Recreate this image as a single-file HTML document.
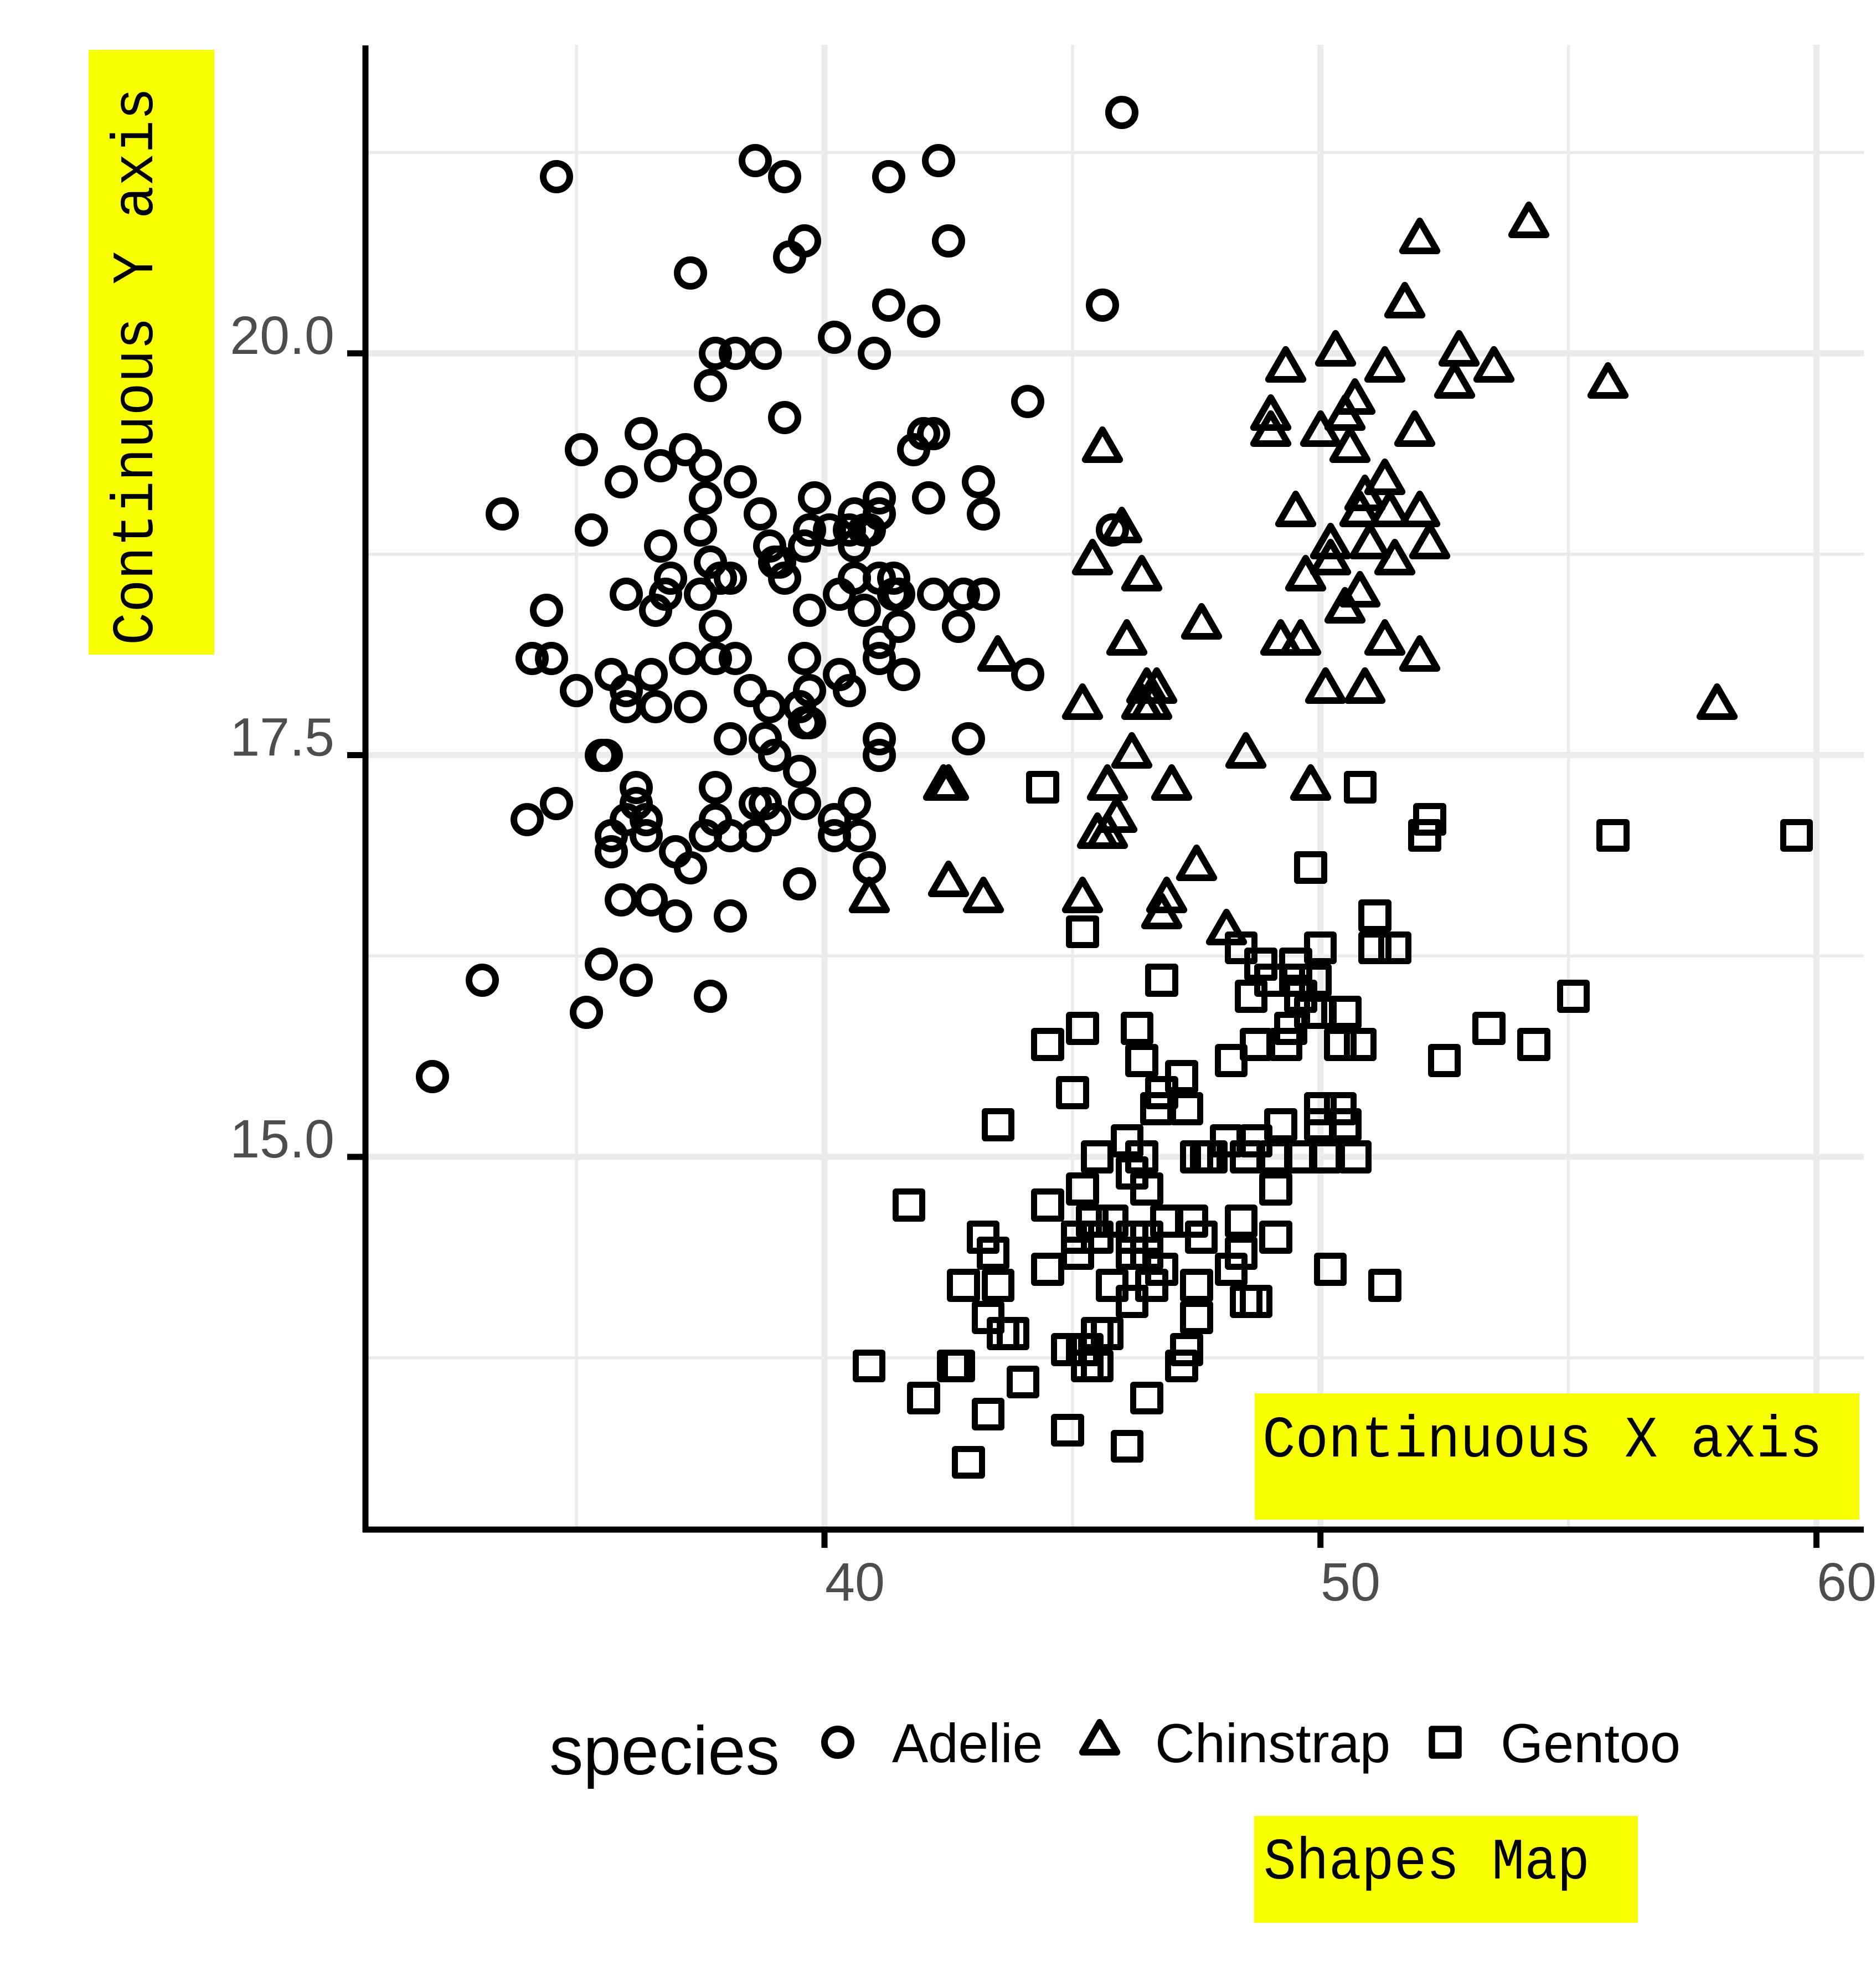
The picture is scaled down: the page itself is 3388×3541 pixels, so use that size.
<!DOCTYPE html>
<html><head><meta charset="utf-8"><style>
html,body{margin:0;padding:0;background:#fff}
body{width:3388px;height:3541px;position:relative;overflow:hidden}
svg.bg{position:absolute;left:0;top:0}
.pts i,.pts svg{position:absolute;left:calc((var(--x) - 40)*89.57px + 1489px);top:calc((20 - var(--y))*290.2px + 638px);box-sizing:border-box}
.A i{width:60px;height:60px;margin:-30px 0 0 -30px;border:12px solid #000;border-radius:50%}
.G i{width:59.5px;height:59.5px;margin:-29.75px 0 0 -29.75px;border:11.5px solid #000;border-radius:6px}
.C svg{width:90px;height:90px;margin:-45px 0 0 -45px;overflow:visible}
</style></head><body>
<svg class="bg" width="3388" height="3541" viewBox="0 0 3388 3541" xmlns="http://www.w3.org/2000/svg">
<defs>
<path id="t" d="M45,8.9L76.2,63L13.8,63Z" fill="none" stroke="#000" stroke-width="12" stroke-linejoin="round"/>
</defs>
<g stroke="#ebebeb" stroke-width="5.5">
<line x1="660" x2="3366" y1="275.25" y2="275.25"/>
<line x1="660" x2="3366" y1="1000.75" y2="1000.75"/>
<line x1="660" x2="3366" y1="1726.25" y2="1726.25"/>
<line x1="660" x2="3366" y1="2451.75" y2="2451.75"/>
<line x1="1041.2" x2="1041.2" y1="81" y2="2762"/>
<line x1="1936.9" x2="1936.9" y1="81" y2="2762"/>
<line x1="2832.6" x2="2832.6" y1="81" y2="2762"/>
</g>
<g stroke="#ebebeb" stroke-width="11">
<line x1="660" x2="3366" y1="638" y2="638"/>
<line x1="660" x2="3366" y1="1363.5" y2="1363.5"/>
<line x1="660" x2="3366" y1="2089" y2="2089"/>
<line x1="1489" x2="1489" y1="81" y2="2762"/>
<line x1="2384.7" x2="2384.7" y1="81" y2="2762"/>
<line x1="3280.4" x2="3280.4" y1="81" y2="2762"/>
</g>
<g stroke="#000" stroke-width="11">
<line x1="660" x2="660" y1="82" y2="2767"/>
<line x1="655" x2="3366" y1="2762" y2="2762"/>
<line x1="627" x2="660" y1="638" y2="638"/>
<line x1="627" x2="660" y1="1363.5" y2="1363.5"/>
<line x1="627" x2="660" y1="2089" y2="2089"/>
<line x1="1489" x2="1489" y1="2762" y2="2795"/>
<line x1="2384.7" x2="2384.7" y1="2762" y2="2795"/>
<line x1="3280.4" x2="3280.4" y1="2762" y2="2795"/>
</g>
<g font-family="Liberation Sans, Arial, sans-serif" font-size="97" fill="#4d4d4d">
<text x="604" y="639" text-anchor="end">20.0</text>
<text x="604" y="1364.5" text-anchor="end">17.5</text>
<text x="604" y="2090" text-anchor="end">15.0</text>
<text x="1490" y="2890">40</text>
<text x="2385" y="2890">50</text>
<text x="3281" y="2890">60</text>
</g>
<rect x="160" y="90" width="227" height="1092" fill="#f8ff00"/>
<text transform="translate(275,1165) rotate(-90)" font-family="Liberation Mono, DejaVu Sans Mono, monospace" font-size="106" fill="#000" textLength="1007" lengthAdjust="spacingAndGlyphs">Continuous Y axis</text>
<rect x="2266" y="2516" width="1092" height="228" fill="#f8ff00"/>
<text x="2280" y="2630" font-family="Liberation Mono, DejaVu Sans Mono, monospace" font-size="106" fill="#000" textLength="1011" lengthAdjust="spacingAndGlyphs">Continuous X axis</text>
<rect x="2265" y="3279" width="693" height="193" fill="#f8ff00"/>
<text x="2282" y="3392" font-family="Liberation Mono, DejaVu Sans Mono, monospace" font-size="106" fill="#000" textLength="589" lengthAdjust="spacingAndGlyphs">Shapes Map</text>
<g font-family="Liberation Sans, Arial, sans-serif" fill="#000">
<text x="992" y="3204" font-size="124" textLength="416" lengthAdjust="spacingAndGlyphs">species</text>
<text x="1611" y="3182" font-size="99" textLength="272" lengthAdjust="spacingAndGlyphs">Adelie</text>
<text x="2086" y="3182" font-size="99" textLength="425" lengthAdjust="spacingAndGlyphs">Chinstrap</text>
<text x="2710" y="3182" font-size="99" textLength="325" lengthAdjust="spacingAndGlyphs">Gentoo</text>
</g>
<circle cx="1513" cy="3146" r="24" fill="none" stroke="#000" stroke-width="12"/>
<use href="#t" x="1941" y="3101"/>
<rect x="2586" y="3122" width="48" height="48" fill="none" stroke="#000" stroke-width="11.5" stroke-linejoin="round"/>
</svg>
<div class="pts A">
<i style=--x:39.1;--y:18.7></i><i style=--x:39.5;--y:17.4></i><i style=--x:40.3;--y:18.0></i><i style=--x:36.7;--y:19.3></i>
<i style=--x:39.3;--y:20.6></i><i style=--x:38.9;--y:17.8></i><i style=--x:39.2;--y:19.6></i><i style=--x:34.1;--y:18.1></i>
<i style=--x:42.0;--y:20.2></i><i style=--x:37.8;--y:17.1></i><i style=--x:37.8;--y:17.3></i><i style=--x:41.1;--y:17.6></i>
<i style=--x:38.6;--y:21.2></i><i style=--x:34.6;--y:21.1></i><i style=--x:36.6;--y:17.8></i><i style=--x:38.7;--y:19.0></i>
<i style=--x:42.5;--y:20.7></i><i style=--x:34.4;--y:18.4></i><i style=--x:46.0;--y:21.5></i><i style=--x:37.8;--y:18.3></i>
<i style=--x:37.7;--y:18.7></i><i style=--x:35.9;--y:19.2></i><i style=--x:38.2;--y:18.1></i><i style=--x:38.8;--y:17.2></i>
<i style=--x:35.3;--y:18.9></i><i style=--x:40.6;--y:18.6></i><i style=--x:40.5;--y:17.9></i><i style=--x:37.9;--y:18.6></i>
<i style=--x:40.5;--y:18.9></i><i style=--x:39.5;--y:16.7></i><i style=--x:37.2;--y:18.1></i><i style=--x:39.5;--y:17.8></i>
<i style=--x:40.9;--y:18.9></i><i style=--x:36.4;--y:17.0></i><i style=--x:39.2;--y:21.1></i><i style=--x:38.8;--y:20.0></i>
<i style=--x:42.2;--y:18.5></i><i style=--x:37.6;--y:19.3></i><i style=--x:39.8;--y:19.1></i><i style=--x:36.5;--y:18.0></i>
<i style=--x:40.8;--y:18.4></i><i style=--x:36.0;--y:18.5></i><i style=--x:44.1;--y:19.7></i><i style=--x:37.0;--y:16.9></i>
<i style=--x:39.6;--y:18.8></i><i style=--x:41.1;--y:19.0></i><i style=--x:37.5;--y:18.9></i><i style=--x:36.0;--y:17.9></i>
<i style=--x:42.3;--y:21.2></i><i style=--x:39.6;--y:17.7></i><i style=--x:40.1;--y:18.9></i><i style=--x:35.0;--y:17.9></i>
<i style=--x:42.0;--y:19.5></i><i style=--x:34.5;--y:18.1></i><i style=--x:41.4;--y:18.6></i><i style=--x:39.0;--y:17.5></i>
<i style=--x:40.6;--y:18.8></i><i style=--x:36.5;--y:16.6></i><i style=--x:37.6;--y:19.1></i><i style=--x:35.7;--y:16.9></i>
<i style=--x:41.3;--y:21.1></i><i style=--x:37.6;--y:17.0></i><i style=--x:41.1;--y:18.2></i><i style=--x:36.4;--y:17.1></i>
<i style=--x:41.6;--y:18.0></i><i style=--x:35.5;--y:16.2></i><i style=--x:41.1;--y:19.1></i><i style=--x:35.9;--y:16.6></i>
<i style=--x:41.8;--y:19.4></i><i style=--x:33.5;--y:19.0></i><i style=--x:39.7;--y:18.4></i><i style=--x:39.6;--y:17.2></i>
<i style=--x:45.8;--y:18.9></i><i style=--x:35.5;--y:17.5></i><i style=--x:42.8;--y:18.5></i><i style=--x:40.9;--y:16.8></i>
<i style=--x:37.2;--y:19.4></i><i style=--x:36.2;--y:16.1></i><i style=--x:42.1;--y:19.1></i><i style=--x:34.6;--y:17.2></i>
<i style=--x:42.9;--y:17.6></i><i style=--x:36.7;--y:18.8></i><i style=--x:35.1;--y:19.4></i><i style=--x:37.3;--y:17.8></i>
<i style=--x:41.3;--y:20.3></i><i style=--x:36.3;--y:19.5></i><i style=--x:36.9;--y:18.6></i><i style=--x:38.3;--y:19.2></i>
<i style=--x:38.9;--y:18.8></i><i style=--x:35.7;--y:18.0></i><i style=--x:41.1;--y:18.1></i><i style=--x:34.0;--y:17.1></i>
<i style=--x:39.6;--y:18.1></i><i style=--x:36.2;--y:17.3></i><i style=--x:40.8;--y:18.9></i><i style=--x:38.1;--y:18.6></i>
<i style=--x:40.3;--y:18.5></i><i style=--x:33.1;--y:16.1></i><i style=--x:43.2;--y:18.5></i><i style=--x:35.0;--y:17.9></i>
<i style=--x:41.0;--y:20.0></i><i style=--x:37.7;--y:16.0></i><i style=--x:37.8;--y:20.0></i><i style=--x:37.9;--y:18.6></i>
<i style=--x:39.7;--y:18.9></i><i style=--x:38.6;--y:17.2></i><i style=--x:38.2;--y:20.0></i><i style=--x:38.1;--y:17.0></i>
<i style=--x:43.2;--y:19.0></i><i style=--x:38.1;--y:16.5></i><i style=--x:45.6;--y:20.3></i><i style=--x:39.7;--y:17.7></i>
<i style=--x:42.2;--y:19.5></i><i style=--x:39.6;--y:20.7></i><i style=--x:42.7;--y:18.3></i><i style=--x:38.6;--y:17.0></i>
<i style=--x:37.3;--y:20.5></i><i style=--x:35.7;--y:17.0></i><i style=--x:41.1;--y:18.6></i><i style=--x:36.2;--y:17.2></i>
<i style=--x:37.7;--y:19.8></i><i style=--x:40.2;--y:17.0></i><i style=--x:41.4;--y:18.5></i><i style=--x:35.2;--y:15.9></i>
<i style=--x:40.6;--y:19.0></i><i style=--x:38.8;--y:17.6></i><i style=--x:41.5;--y:18.3></i><i style=--x:39.0;--y:17.1></i>
<i style=--x:44.1;--y:18.0></i><i style=--x:38.5;--y:17.9></i><i style=--x:43.1;--y:19.2></i><i style=--x:36.8;--y:18.5></i>
<i style=--x:37.5;--y:18.5></i><i style=--x:38.1;--y:17.6></i><i style=--x:41.1;--y:17.5></i><i style=--x:35.6;--y:17.5></i>
<i style=--x:40.2;--y:20.1></i><i style=--x:37.0;--y:16.5></i><i style=--x:39.7;--y:17.9></i><i style=--x:40.2;--y:17.1></i>
<i style=--x:40.6;--y:17.2></i><i style=--x:32.1;--y:15.5></i><i style=--x:40.7;--y:17.0></i><i style=--x:37.3;--y:16.8></i>
<i style=--x:39.0;--y:18.7></i><i style=--x:39.2;--y:18.6></i><i style=--x:36.6;--y:18.4></i><i style=--x:36.0;--y:17.8></i>
<i style=--x:37.8;--y:18.1></i><i style=--x:36.0;--y:17.1></i><i style=--x:41.5;--y:18.5></i>
</div>
<div class="pts G">
<i style=--x:46.1;--y:13.2></i><i style=--x:50.0;--y:16.3></i><i style=--x:48.7;--y:14.1></i><i style=--x:50.0;--y:15.2></i>
<i style=--x:47.6;--y:14.5></i><i style=--x:46.5;--y:13.5></i><i style=--x:45.4;--y:14.6></i><i style=--x:46.7;--y:15.3></i>
<i style=--x:43.3;--y:13.4></i><i style=--x:46.8;--y:15.4></i><i style=--x:40.9;--y:13.7></i><i style=--x:49.0;--y:16.1></i>
<i style=--x:45.5;--y:13.7></i><i style=--x:48.4;--y:14.6></i><i style=--x:45.8;--y:14.6></i><i style=--x:49.3;--y:15.7></i>
<i style=--x:42.0;--y:13.5></i><i style=--x:49.2;--y:15.2></i><i style=--x:46.2;--y:14.5></i><i style=--x:48.7;--y:15.1></i>
<i style=--x:50.2;--y:14.3></i><i style=--x:45.1;--y:14.5></i><i style=--x:46.5;--y:14.5></i><i style=--x:46.3;--y:15.8></i>
<i style=--x:42.9;--y:13.1></i><i style=--x:46.1;--y:15.1></i><i style=--x:44.5;--y:14.3></i><i style=--x:47.8;--y:15.0></i>
<i style=--x:48.2;--y:14.3></i><i style=--x:50.0;--y:15.3></i><i style=--x:47.3;--y:15.3></i><i style=--x:42.8;--y:14.2></i>
<i style=--x:45.1;--y:14.5></i><i style=--x:59.6;--y:17.0></i><i style=--x:49.1;--y:14.8></i><i style=--x:48.4;--y:16.3></i>
<i style=--x:42.6;--y:13.7></i><i style=--x:44.4;--y:17.3></i><i style=--x:44.0;--y:13.6></i><i style=--x:48.7;--y:15.7></i>
<i style=--x:42.7;--y:13.7></i><i style=--x:49.6;--y:16.0></i><i style=--x:45.3;--y:13.7></i><i style=--x:49.6;--y:15.0></i>
<i style=--x:50.5;--y:15.9></i><i style=--x:43.6;--y:13.9></i><i style=--x:45.5;--y:13.9></i><i style=--x:50.5;--y:15.9></i>
<i style=--x:44.9;--y:13.3></i><i style=--x:45.2;--y:15.8></i><i style=--x:46.6;--y:14.2></i><i style=--x:48.5;--y:14.1></i>
<i style=--x:45.1;--y:14.4></i><i style=--x:50.1;--y:15.0></i><i style=--x:46.5;--y:14.4></i><i style=--x:45.0;--y:15.4></i>
<i style=--x:43.8;--y:13.9></i><i style=--x:45.5;--y:15.0></i><i style=--x:43.2;--y:14.5></i><i style=--x:50.4;--y:15.3></i>
<i style=--x:45.3;--y:13.8></i><i style=--x:46.2;--y:14.9></i><i style=--x:45.7;--y:13.9></i><i style=--x:54.3;--y:15.7></i>
<i style=--x:45.8;--y:14.2></i><i style=--x:49.8;--y:16.8></i><i style=--x:46.2;--y:14.4></i><i style=--x:49.5;--y:16.2></i>
<i style=--x:43.5;--y:14.2></i><i style=--x:50.7;--y:15.0></i><i style=--x:47.7;--y:15.0></i><i style=--x:46.4;--y:15.6></i>
<i style=--x:48.2;--y:15.6></i><i style=--x:46.5;--y:14.8></i><i style=--x:46.4;--y:15.0></i><i style=--x:48.6;--y:16.0></i>
<i style=--x:47.5;--y:14.2></i><i style=--x:51.1;--y:16.3></i><i style=--x:45.2;--y:13.8></i><i style=--x:45.2;--y:16.4></i>
<i style=--x:49.1;--y:14.5></i><i style=--x:52.5;--y:15.6></i><i style=--x:47.4;--y:14.6></i><i style=--x:50.0;--y:15.9></i>
<i style=--x:44.9;--y:13.8></i><i style=--x:50.8;--y:17.3></i><i style=--x:43.4;--y:14.4></i><i style=--x:51.3;--y:14.2></i>
<i style=--x:47.5;--y:14.0></i><i style=--x:52.1;--y:17.0></i><i style=--x:47.5;--y:15.0></i><i style=--x:52.2;--y:17.1></i>
<i style=--x:45.5;--y:14.5></i><i style=--x:49.5;--y:16.1></i><i style=--x:44.5;--y:14.7></i><i style=--x:50.8;--y:15.7></i>
<i style=--x:49.4;--y:15.8></i><i style=--x:46.9;--y:14.6></i><i style=--x:48.4;--y:14.4></i><i style=--x:51.1;--y:16.5></i>
<i style=--x:48.5;--y:15.0></i><i style=--x:55.9;--y:17.0></i><i style=--x:47.2;--y:15.5></i><i style=--x:49.1;--y:15.0></i>
<i style=--x:47.3;--y:13.8></i><i style=--x:46.8;--y:16.1></i><i style=--x:41.7;--y:14.7></i><i style=--x:53.4;--y:15.8></i>
<i style=--x:43.3;--y:14.0></i><i style=--x:48.1;--y:15.1></i><i style=--x:50.5;--y:15.2></i><i style=--x:49.8;--y:15.9></i>
<i style=--x:43.5;--y:15.2></i><i style=--x:51.5;--y:16.3></i><i style=--x:46.2;--y:14.1></i><i style=--x:55.1;--y:16.0></i>
<i style=--x:44.5;--y:15.7></i><i style=--x:48.8;--y:16.2></i><i style=--x:47.2;--y:13.7></i><i style=--x:46.8;--y:14.3></i>
<i style=--x:50.4;--y:15.7></i><i style=--x:45.2;--y:14.8></i><i style=--x:49.9;--y:16.1></i>
</div>
<div class="pts C">
<svg style=--x:46.5;--y:17.9><use href="#t"/></svg><svg style=--x:50.0;--y:19.5><use href="#t"/></svg>
<svg style=--x:51.3;--y:19.2><use href="#t"/></svg><svg style=--x:45.4;--y:18.7><use href="#t"/></svg>
<svg style=--x:52.7;--y:19.8><use href="#t"/></svg><svg style=--x:45.2;--y:17.8><use href="#t"/></svg>
<svg style=--x:46.1;--y:18.2><use href="#t"/></svg><svg style=--x:51.3;--y:18.2><use href="#t"/></svg>
<svg style=--x:46.0;--y:18.9><use href="#t"/></svg><svg style=--x:51.3;--y:19.9><use href="#t"/></svg>
<svg style=--x:46.6;--y:17.8><use href="#t"/></svg><svg style=--x:51.7;--y:20.3><use href="#t"/></svg>
<svg style=--x:47.0;--y:17.3><use href="#t"/></svg><svg style=--x:52.0;--y:18.1><use href="#t"/></svg>
<svg style=--x:45.9;--y:17.1><use href="#t"/></svg><svg style=--x:50.5;--y:19.6><use href="#t"/></svg>
<svg style=--x:50.3;--y:20.0><use href="#t"/></svg><svg style=--x:58.0;--y:17.8><use href="#t"/></svg>
<svg style=--x:46.4;--y:18.6><use href="#t"/></svg><svg style=--x:49.2;--y:18.2><use href="#t"/></svg>
<svg style=--x:42.4;--y:17.3><use href="#t"/></svg><svg style=--x:48.5;--y:17.5><use href="#t"/></svg>
<svg style=--x:43.2;--y:16.6><use href="#t"/></svg><svg style=--x:50.6;--y:19.4><use href="#t"/></svg>
<svg style=--x:46.7;--y:17.9><use href="#t"/></svg><svg style=--x:52.0;--y:19.0><use href="#t"/></svg>
<svg style=--x:50.5;--y:18.4><use href="#t"/></svg><svg style=--x:49.5;--y:19.0><use href="#t"/></svg>
<svg style=--x:46.4;--y:17.8><use href="#t"/></svg><svg style=--x:52.8;--y:20.0><use href="#t"/></svg>
<svg style=--x:40.9;--y:16.6><use href="#t"/></svg><svg style=--x:54.2;--y:20.8><use href="#t"/></svg>
<svg style=--x:42.5;--y:16.7><use href="#t"/></svg><svg style=--x:51.0;--y:18.8><use href="#t"/></svg>
<svg style=--x:49.7;--y:18.6><use href="#t"/></svg><svg style=--x:47.5;--y:16.8><use href="#t"/></svg>
<svg style=--x:47.6;--y:18.3><use href="#t"/></svg><svg style=--x:52.0;--y:20.7><use href="#t"/></svg>
<svg style=--x:46.9;--y:16.6><use href="#t"/></svg><svg style=--x:53.5;--y:19.9><use href="#t"/></svg>
<svg style=--x:49.0;--y:19.5><use href="#t"/></svg><svg style=--x:46.2;--y:17.5><use href="#t"/></svg>
<svg style=--x:50.9;--y:19.1><use href="#t"/></svg><svg style=--x:45.5;--y:17.0><use href="#t"/></svg>
<svg style=--x:50.9;--y:17.9><use href="#t"/></svg><svg style=--x:50.8;--y:18.5><use href="#t"/></svg>
<svg style=--x:50.1;--y:17.9><use href="#t"/></svg><svg style=--x:49.0;--y:19.6><use href="#t"/></svg>
<svg style=--x:51.5;--y:18.7><use href="#t"/></svg><svg style=--x:49.8;--y:17.3><use href="#t"/></svg>
<svg style=--x:48.1;--y:16.4><use href="#t"/></svg><svg style=--x:51.4;--y:19.0><use href="#t"/></svg>
<svg style=--x:45.7;--y:17.3><use href="#t"/></svg><svg style=--x:50.7;--y:19.7><use href="#t"/></svg>
<svg style=--x:42.5;--y:17.3><use href="#t"/></svg><svg style=--x:52.2;--y:18.8><use href="#t"/></svg>
<svg style=--x:45.2;--y:16.6><use href="#t"/></svg><svg style=--x:49.3;--y:19.9><use href="#t"/></svg>
<svg style=--x:50.2;--y:18.8><use href="#t"/></svg><svg style=--x:45.6;--y:19.4><use href="#t"/></svg>
<svg style=--x:51.9;--y:19.5><use href="#t"/></svg><svg style=--x:46.8;--y:16.5><use href="#t"/></svg>
<svg style=--x:45.7;--y:17.0><use href="#t"/></svg><svg style=--x:55.8;--y:19.8><use href="#t"/></svg>
<svg style=--x:43.5;--y:18.1><use href="#t"/></svg><svg style=--x:49.6;--y:18.2><use href="#t"/></svg>
<svg style=--x:50.8;--y:19.0><use href="#t"/></svg><svg style=--x:50.2;--y:18.7><use href="#t"/></svg>
</div>
</body></html>
